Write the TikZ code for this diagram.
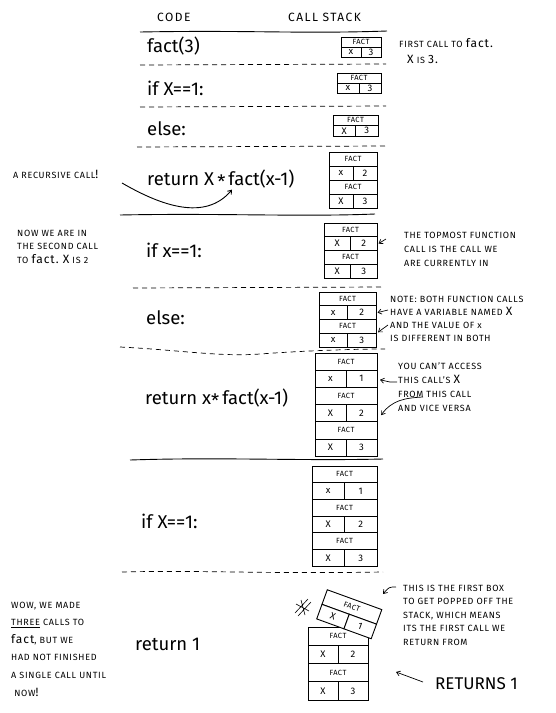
\documentclass[tikz,border=0pt]{standalone}
\usepackage{fontspec}
\setmainfont{Fira Sans}
\usetikzlibrary{arrows.meta}
\tikzset{
  code/.style={font=\fontsize{18.5}{18.5}\selectfont, anchor=base west, inner sep=0},
  head/.style={font=\fontsize{12}{12}\selectfont\addfontfeature{LetterSpace=12}, anchor=base west, inner sep=0},
  note/.style={font=\fontsize{9}{10}\selectfont\addfontfeature{LetterSpace=8}, anchor=base west, inner sep=0},
  dsep/.style={line width=0.7pt, dash pattern=on 5pt off 4pt},
  ssep/.style={line width=0.9pt},
  cell/.style={draw, fill=white, line width=0.9pt, inner sep=0, outer sep=0},
  factcell/.style={cell, font=\fontsize{7.5}{7.5}\selectfont\addfontfeature{LetterSpace=6}},
  varcell/.style={cell, font=\fontsize{9.5}{9.5}\selectfont},
  ptr/.style={-{Straight Barb[length=3.5pt,width=5pt]}, line width=0.7pt},
}
\newcommand\hand[1]{{\fontsize{12}{12}\selectfont #1}}
% stack of frames: name, x, y (top), width, row height, list of key/value
\newcommand\stk[6]{%
  \foreach \k/\v [count=\i from 0] in {#6}{
    \node[factcell, minimum width={#4pt}, minimum height={#5pt}, anchor=north west]
      (#1f\i) at (#2,{#3+2*\i*#5}) {FACT};
    \node[varcell, minimum width={0.5*#4pt}, minimum height={#5pt}, anchor=north west]
      (#1x\i) at (#2,{#3+(2*\i+1)*#5}) {\k};
    \node[varcell, minimum width={0.5*#4pt}, minimum height={#5pt}, anchor=north west]
      (#1v\i) at ({#2+0.5*#4},{#3+(2*\i+1)*#5}) {\v};
  }%
}
% lines of a note: name, x, first baseline, line step, list of lines
\newcommand\notelines[5]{%
  \foreach \t [count=\i from 0] in {#5}{
    \node[note] (#1\i) at (#2,{#3+\i*#4}) {\t};
  }%
}
\newcommand\astx{\raisebox{-0.35ex}{*}}
\begin{document}
\begin{tikzpicture}[x=1pt,y=-1pt]
\useasboundingbox[fill=white] (0,0) rectangle (555,713);

% header
\node[head] (hcode) at (157,21) {CODE};
\node[head] (hstack) at (288,21) {CALL STACK};
\draw[ssep] (140,32) .. controls (250,30) and (300,34) .. (387,31);

% separators
\draw[dsep] (140,65) -- (386,64);
\draw[dsep] (140,107) -- (386,106);
\draw[dsep] (137,147) -- (386,146);
\draw[ssep] (120,215) .. controls (220,213) and (300,217) .. (375,214);
\draw[dsep] (133,288) -- (383,287);
\draw[dsep] (120,347) .. controls (180,350) and (220,357) .. (260,354) .. controls (300,351) and (350,349) .. (385,349);
\draw[ssep] (130,460) .. controls (220,457) and (300,461) .. (383,459);
\draw[dsep] (122,572) .. controls (200,570) and (260,574) .. (383,572);

% code column
\node[code] (c1) at (147,52) {fact(3)};
\node[code] (c2) at (147,95) {if X==1:};
\node[code] (c3) at (147,135) {else:};
\node[code] (c4) at (147,185) {return X\,\astx\,fact(x-1)};
\node[code] (c5) at (146,257) {if x==1:};
\node[code] (c6) at (146,324) {else:};
\node[code] (c7) at (145,404) {return x\astx\,fact(x-1)};
\node[code] (c8) at (141,528) {if X==1:};
\node[code] (c9) at (135,650) {return 1};

% call stacks
\stk{ba}{341}{37}{40}{10}{x/3}
\stk{bb}{337}{73}{44}{10}{x/3}
\stk{bc}{333}{115}{45}{10.5}{X/3}
\stk{bd}{329}{152}{48}{14}{x/2,X/3}
\stk{be}{324}{223}{53}{13.75}{X/2,X/3}
\stk{bf}{319}{292}{57}{13.75}{x/2,x/3}
\stk{bg}{315}{353}{62}{17.2}{x/1,X/2,X/3}
\stk{bh}{312}{466}{65}{16.7}{x/1,X/2,X/3}
\stk{bi}{308}{627}{60}{18.25}{X/2,X/3}
\begin{scope}[shift={(349.25,614.25)}, rotate=-20, transform shape]
  \stk{pop}{-29}{-15.5}{58}{15.5}{X/1}
\end{scope}
% scribble beside the popped frame
\draw[line width=0.6pt] (295,613) -- (308,599) (298,616) -- (311,602) (296,604) -- (309,611) (301,600) -- (305,615);

% notes
\node[note] (n1) at (399,47) {FIRST CALL TO \hand{fact.}};
\node[note] (n2) at (407,63) {\hand{X} IS \hand{3.}};
\node[note] (nrec) at (13,178) {A RECURSIVE CALL\hand{!}};
\notelines{nnow}{17}{236}{13.5}{NOW WE ARE IN, THE SECOND CALL, {TO \hand{fact.} \hand{X} IS 2}}
\notelines{ntop}{404}{238}{14}{THE TOPMOST FUNCTION, CALL IS THE CALL WE, ARE CURRENTLY IN}
\notelines{nboth}{390}{302}{13.3}{{NOTE: BOTH FUNCTION CALLS}, {HAVE A VARIABLE NAMED \hand{X}}, {AND THE VALUE OF x}, {IS DIFFERENT IN BOTH}}
\notelines{nacc}{398}{369}{14}{{YOU CAN'T ACCESS}, {THIS CALL'S \hand{X}}, {FROM THIS CALL}, {AND VICE VERSA}}
\notelines{nwow}{11}{608}{17.6}{{WOW, WE MADE}, {\underline{THREE} CALLS TO}, {\hand{fact}, BUT WE}, {HAD NOT FINISHED}, {A SINGLE CALL UNTIL}, {\ NOW\hand{!}}}
\notelines{npop}{403}{591}{13.6}{{THIS IS THE FIRST BOX}, {TO GET POPPED OFF THE}, {STACK, WHICH MEANS}, {ITS THE FIRST CALL WE}, {RETURN FROM}}
\node[note, font=\fontsize{17}{17}\selectfont] (nret) at (435,689) {RETURNS 1};

% pointers
\coordinate (rcs) at (122,183);
\draw[ptr, line width=0.9pt] (rcs) .. controls (160,205) and (205,222) .. ([xshift=-1pt,yshift=-1pt]c4.south west -| 233,0);
\coordinate (pe) at (386,239);
\draw[ptr] (pe) -- ([xshift=1.5pt]bev0.east);
\coordinate (pf1) at (388,310);
\draw[ptr] (pf1) -- ([xshift=1.5pt]bfv0.east);
\coordinate (pf2) at (388,325);
\draw[ptr] (pf2) -- ([xshift=2pt,yshift=1pt]bff1.south east);
\coordinate (pg1) at (397,382);
\draw[ptr] (pg1) -- (390,382) -- ([xshift=3pt,yshift=-1pt]bgv0.east);
\coordinate (pg2) at (423,397);
\draw[ptr] (pg2) .. controls (405,398) and (392,400) .. ([xshift=4pt,yshift=-2pt]bgv1.east);
\coordinate (pp) at (396,587);
\draw[ptr] (pp) .. controls (389,587) .. (383,594);
\coordinate (pr) at (423,682);
\draw[ptr] (pr) -- (396,672);
\end{tikzpicture}
\end{document}
